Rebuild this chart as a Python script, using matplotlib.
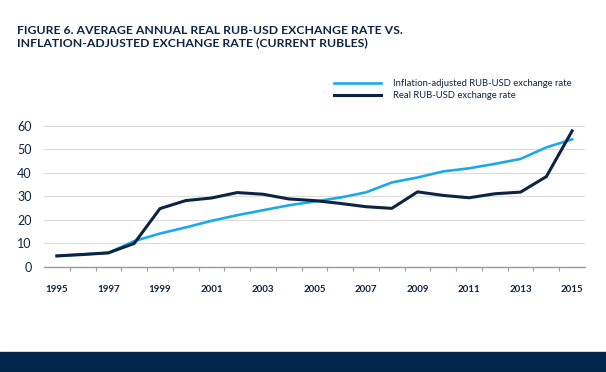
import matplotlib
matplotlib.use("Agg")
import matplotlib.pyplot as plt
import numpy as np

years = list(range(1995, 2016))
inflation_adjusted = [4.7, 5.4, 6.0, 11.0, 14.2, 16.8, 19.6, 22.0, 24.1, 26.2, 27.8,
                      29.5, 31.7, 35.9, 38.0, 40.6, 41.9, 43.8, 45.9, 50.8, 54.2]
real_rate = [4.7, 5.3, 6.0, 10.0, 24.8, 28.2, 29.3, 31.6, 30.9, 28.9, 28.2,
             27.0, 25.6, 24.9, 31.9, 30.4, 29.4, 31.1, 31.8, 38.4, 57.8]
year_labels = [str(y) for y in range(1995, 2016, 2)]
title = ("FIGURE 6. AVERAGE ANNUAL REAL RUB-USD EXCHANGE RATE VS.\n"
         "INFLATION-ADJUSTED EXCHANGE RATE (CURRENT RUBLES)")

navy = '#0c2443'
light = '#1ea8ec'

plt.rcParams['font.family'] = ['Lato', 'DejaVu Sans']

fig = plt.figure(figsize=(6.06, 3.72), dpi=100)
ax = fig.add_axes([44 / 606, 1 - 267 / 372, (585 - 44) / 606, (267 - 125.7) / 372])

ax.plot(years, inflation_adjusted, color=light, lw=1.9, label='Inflation-adjusted RUB-USD exchange rate')
ax.plot(years, real_rate, color=navy, lw=2.2, label='Real RUB-USD exchange rate')

ax.set_xlim(1994.5, 2015.5)
ax.set_ylim(0, 60)
ax.set_yticks(range(0, 61, 10))
ax.set_xticks(range(1995, 2016, 2))
ax.set_xticklabels(year_labels)
ax.set_xticks(np.arange(1995.5, 2015, 1), minor=True)

ax.grid(axis='y', color='#dcdcdc', lw=0.8)
ax.set_axisbelow(True)
for s in ['top', 'right', 'left']:
    ax.spines[s].set_visible(False)
ax.spines['bottom'].set_color('#9a9a9a')
ax.spines['bottom'].set_linewidth(1.0)

ax.tick_params(axis='x', which='major', length=0, pad=13, labelsize=7, labelcolor=navy)
ax.tick_params(axis='x', which='minor', length=3, width=0.8, color='#9a9a9a', direction='out')
ax.tick_params(axis='y', length=0, pad=9, labelsize=9, labelcolor=navy)
for lbl in ax.get_xticklabels():
    lbl.set_fontweight('bold')

ax.legend(loc='lower left', bbox_to_anchor=(330 / 606, 1 - 104 / 372), bbox_transform=fig.transFigure,
          frameon=False, fontsize=6.8, labelcolor=navy, handlelength=5.0, handletextpad=1.3,
          labelspacing=0.3, borderaxespad=0)

fig.text(17 / 606, 1 - 25 / 372, title, ha='left', va='top', fontsize=8.8, fontweight='bold',
         color=navy, linespacing=1.1)

# bottom band
fig.patches.append(plt.Rectangle((0, 0), 1, 20 / 372, transform=fig.transFigure,
                                 color='#00254a', zorder=0))

fig.savefig('out.png', dpi=100)
